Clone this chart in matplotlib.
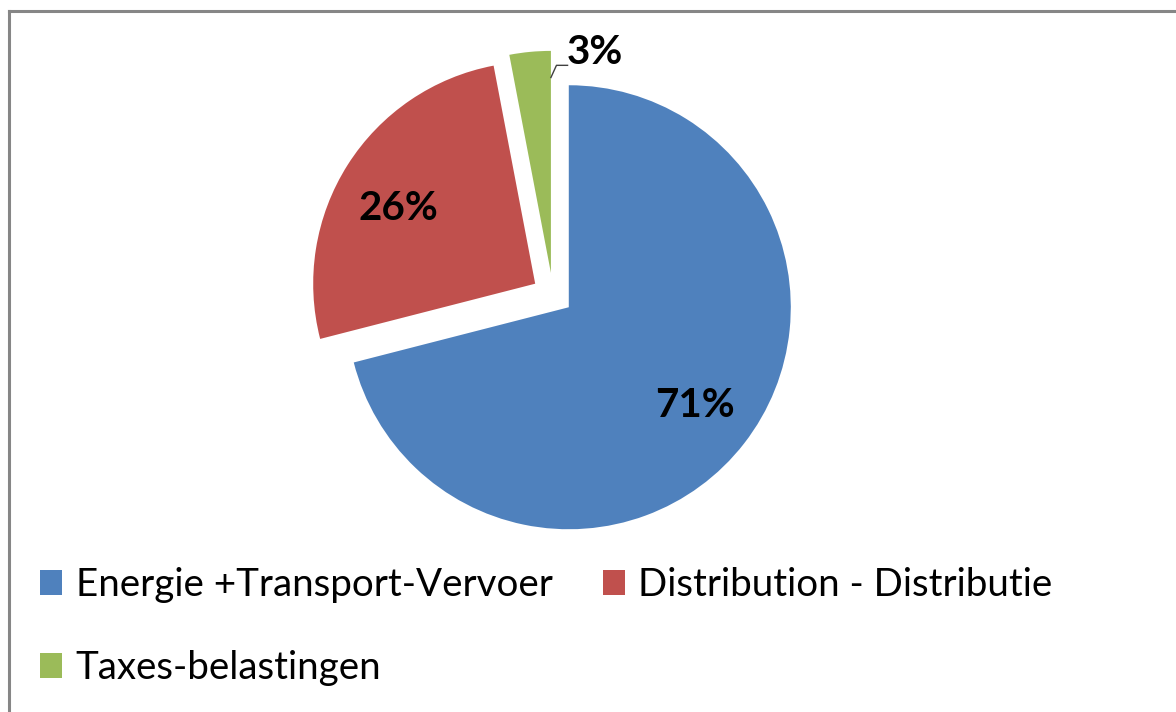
import matplotlib
matplotlib.use("Agg")
import matplotlib.pyplot as plt
from matplotlib.patches import Patch
from matplotlib.lines import Line2D
import numpy as np

categories = ["Energie +Transport-Vervoer", "Distribution - Distributie", "Taxes-belastingen"]
values = [71, 26, 3]
colors = ["#4F81BD", "#C0504D", "#9BBB59"]
explode = [0.09, 0.095, 0.10]

W, H = 1176, 712
fig = plt.figure(figsize=(W / 100, H / 100), dpi=100)
ax = fig.add_axes([0, 0, 1, 1])

R = 222.0
cx, cy = 553.0, 295.0

font = "Lato"

def pct(p):
    return f"{p:.0f}%" if p >= 5 else ""

wedges, texts, autotexts = ax.pie(
    values, colors=colors, explode=explode, startangle=90, counterclock=False,
    radius=1.0, autopct=pct, pctdistance=0.72,
    wedgeprops=dict(linewidth=0),
    textprops=dict(fontsize=29, fontweight="bold", family=font, color="black"),
)
ax.set_axis_off()
ax.set_aspect("equal", adjustable="box")
ax.set_xlim(-cx / R, (W - cx) / R)
ax.set_ylim(-(H - cy) / R, cy / R)

# small nudge of the 26% label
x1, y1 = autotexts[1].get_position()
autotexts[1].set_position((x1 - 0.01, y1 - 0.045))

# 3% label outside with leader line
g = wedges[2]
gc = np.array(g.center)
edge = gc + np.array([0.0, 0.88 * g.r])
p1 = edge + np.array([0.025, 0.055])
p2 = p1 + np.array([0.05, 0.0])
ax.add_line(Line2D([edge[0], p1[0], p2[0]], [edge[1], p1[1], p2[1]], color="#404040", lw=1.0))
ax.text(p2[0] - 0.005, p2[1] + 0.06, f"{values[2]}%", fontsize=29, fontweight="bold",
        family=font, ha="left", va="center", color="black")

# frame lines (top and left visible)
fig.add_artist(Line2D([9 / W, 9 / W], [0, 1 - 11 / H], transform=fig.transFigure, color="#868686", lw=2.2))
fig.add_artist(Line2D([9 / W, 1], [1 - 11 / H, 1 - 11 / H], transform=fig.transFigure, color="#868686", lw=2.2))

handles = [Patch(facecolor=c, edgecolor="none") for c in colors]
order = [0, 2, 1]
leg = fig.legend([handles[i] for i in order], [categories[i] for i in order],
                 loc="upper left", bbox_to_anchor=(40 / W, 1 - 567 / H),
                 ncol=2, frameon=False, borderpad=0, borderaxespad=0,
                 prop=dict(family=font, size=27.7),
                 handlelength=0.58, handleheight=0.62, handletextpad=0.35,
                 columnspacing=1.3, labelspacing=1.22)

fig.savefig("out.png", dpi=100)
